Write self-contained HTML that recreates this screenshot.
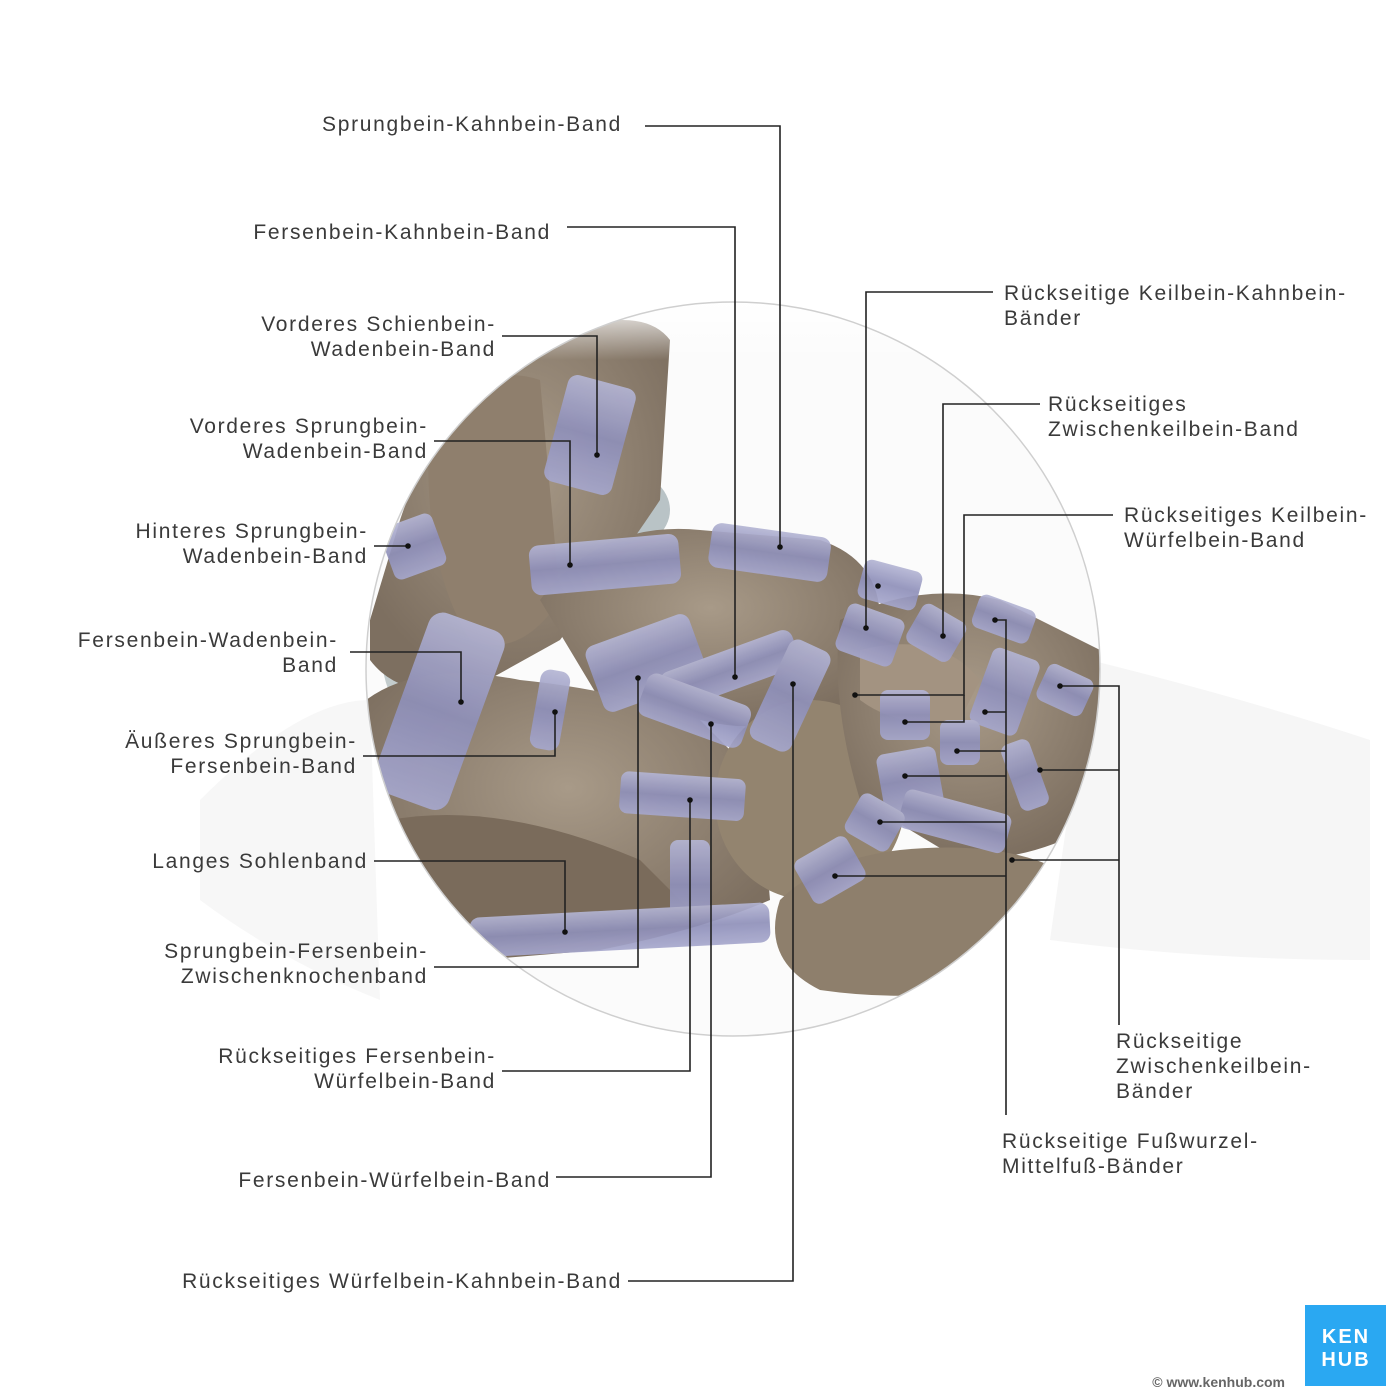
<!DOCTYPE html>
<html><head><meta charset="utf-8"><style>
html,body{margin:0;padding:0;background:#fff}
svg{display:block}
text{font-family:"Liberation Sans",sans-serif;font-size:21px;fill:#3a3a3a;letter-spacing:1.7px}
.r{text-anchor:end}
.l{fill:none;stroke:#222;stroke-width:1.6}
</style></head><body>
<svg width="1400" height="1400" viewBox="0 0 1400 1400" xmlns="http://www.w3.org/2000/svg">
<defs>
<clipPath id="c"><circle cx="733" cy="669" r="367"/></clipPath>
<radialGradient id="bone" cx="50%" cy="40%" r="60%"><stop offset="0" stop-color="#a89a88"/><stop offset="1" stop-color="#7d6f60"/></radialGradient>
<linearGradient id="lig" x1="0" y1="0" x2="0" y2="1"><stop offset="0" stop-color="#b4b5d4"/><stop offset="0.5" stop-color="#8e8fb9"/><stop offset="1" stop-color="#a6a7cc"/></linearGradient>
<linearGradient id="fade" x1="0" y1="0" x2="0" y2="1"><stop offset="0" stop-color="#fff" stop-opacity="1"/><stop offset="1" stop-color="#fff" stop-opacity="0"/></linearGradient>
</defs>
<rect width="1400" height="1400" fill="#fff"/>
<path d="M1090 660 Q1250 700 1370 740 L1370 960 Q1200 960 1050 940 Z" fill="#f6f6f6"/>
<path d="M200 800 Q300 700 370 700 L380 1000 Q280 960 200 900Z" fill="#f7f7f7"/>
<g clip-path="url(#c)">
<rect x="360" y="300" width="750" height="740" fill="#fbfbfb"/>
<ellipse cx="620" cy="510" rx="50" ry="40" fill="#b9c3c6"/>
<ellipse cx="430" cy="640" rx="50" ry="90" fill="#c3cccd"/>
<ellipse cx="770" cy="620" rx="30" ry="60" fill="#bac3c5"/>
<ellipse cx="680" cy="800" rx="25" ry="80" fill="#bcc5c7"/>
<path d="M370 620 L400 520 Q440 400 540 340 Q640 300 670 340 L660 500 Q620 560 560 640 L470 690 Q400 700 370 660Z" fill="url(#bone)"/>
<path d="M430 420 Q480 360 540 380 L560 600 Q520 660 470 640 Q420 560 430 420Z" fill="#8f7f6d"/>
<path d="M540 600 Q600 520 700 530 L820 540 Q880 560 880 620 L860 700 Q780 740 700 720 L600 700 Z" fill="url(#bone)"/>
<path d="M366 700 Q420 660 520 680 Q620 690 700 720 L760 780 L770 900 Q700 930 600 950 L480 960 Q400 920 370 820Z" fill="url(#bone)"/>
<path d="M390 820 Q500 800 640 860 L700 920 Q560 950 470 950 Q410 900 390 820Z" fill="#7a6b5b"/>
<ellipse cx="810" cy="800" rx="95" ry="100" fill="#93846f"/>
<path d="M840 620 Q920 580 1000 600 L1100 650 L1100 820 Q1040 860 960 860 L860 800 Q830 700 840 620Z" fill="url(#bone)"/>
<path d="M860 650 Q940 630 980 680 L960 720 Q900 730 860 700Z" fill="#a39381"/>
<path d="M780 900 Q820 860 900 850 Q1000 840 1060 870 L1080 960 Q960 1010 820 990 Q760 960 780 900Z" fill="#8e7f6c"/>
<g fill="url(#lig)" opacity="0.92">
<rect x="555" y="380" width="70" height="110" rx="10" transform="rotate(15 590 435)"/>
<rect x="385" y="520" width="55" height="55" rx="8" transform="rotate(-20 410 545)"/>
<rect x="530" y="540" width="150" height="50" rx="10" transform="rotate(-5 600 565)"/>
<rect x="710" y="530" width="120" height="45" rx="10" transform="rotate(8 770 550)"/>
<rect x="400" y="620" width="80" height="190" rx="15" transform="rotate(20 450 710)"/>
<rect x="535" y="670" width="30" height="80" rx="10" transform="rotate(10 550 710)"/>
<rect x="590" y="630" width="110" height="70" rx="10" transform="rotate(-20 640 660)"/>
<rect x="660" y="650" width="140" height="40" rx="10" transform="rotate(-20 730 670)"/>
<rect x="640" y="690" width="110" height="45" rx="10" transform="rotate(20 700 710)"/>
<rect x="770" y="640" width="45" height="110" rx="10" transform="rotate(25 790 690)"/>
<rect x="620" y="775" width="125" height="42" rx="8" transform="rotate(4 680 795)"/>
<rect x="670" y="840" width="40" height="90" rx="8"/>
<rect x="470" y="910" width="300" height="40" rx="10" transform="rotate(-3 620 930)"/>
<rect x="860" y="565" width="60" height="40" rx="8" transform="rotate(15 890 585)"/>
<rect x="840" y="610" width="60" height="50" rx="8" transform="rotate(20 870 635)"/>
<rect x="910" y="610" width="50" height="45" rx="8" transform="rotate(30 935 635)"/>
<rect x="975" y="600" width="60" height="35" rx="8" transform="rotate(20 1000 615)"/>
<rect x="980" y="650" width="50" height="80" rx="8" transform="rotate(20 1000 690)"/>
<rect x="1040" y="670" width="50" height="40" rx="8" transform="rotate(25 1065 690)"/>
<rect x="880" y="690" width="50" height="50" rx="8"/>
<rect x="940" y="720" width="40" height="45" rx="8"/>
<rect x="880" y="750" width="60" height="60" rx="8" transform="rotate(-10 910 780)"/>
<rect x="1010" y="740" width="30" height="70" rx="8" transform="rotate(-20 1025 775)"/>
<rect x="900" y="800" width="110" height="40" rx="8" transform="rotate(15 950 820)"/>
<rect x="850" y="800" width="50" height="45" rx="8" transform="rotate(30 875 822)"/>
<rect x="800" y="845" width="60" height="50" rx="8" transform="rotate(-30 830 870)"/>
</g>
<rect x="360" y="300" width="750" height="60" fill="url(#fade)"/>
</g>
<circle cx="733" cy="669" r="367" fill="none" stroke="#cfcfcf" stroke-width="1.5"/>

<g class="l">
<polyline points="645,126 780,126 780,547"/>
<polyline points="567,227 735,227 735,677"/>
<polyline points="502,336 597,336 597,455"/>
<polyline points="434,441 570,441 570,565"/>
<polyline points="374,546 408,546"/>
<polyline points="350,652 461,652 461,702"/>
<polyline points="363,756 555,756 555,712"/>
<polyline points="374,861 565,861 565,932"/>
<polyline points="434,967 638,967 638,678"/>
<polyline points="502,1071 690,1071 690,800"/>
<polyline points="556,1177 711,1177 711,724"/>
<polyline points="628,1281 793,1281 793,684"/>
<polyline points="993,292 866,292 866,628"/>
<polyline points="1040,404 943,404 943,636"/>
<polyline points="1113,515 964,515 964,695 855,695"/>
<polyline points="964,695 964,722 905,722"/>
<polyline points="1119,1025 1119,686 1060,686"/>
<polyline points="1119,770 1040,770"/>
<polyline points="1119,860 1012,860"/>
<polyline points="1006,1115 1006,620 995,620"/>
<polyline points="1006,712 985,712"/>
<polyline points="1006,751 957,751"/>
<polyline points="1006,776 905,776"/>
<polyline points="1006,822 880,822"/>
<polyline points="1006,876 835,876"/>
</g>
<g fill="#111">
<circle cx="780" cy="547" r="2.8"/><circle cx="735" cy="677" r="2.8"/><circle cx="597" cy="455" r="2.8"/>
<circle cx="570" cy="565" r="2.8"/><circle cx="408" cy="546" r="2.8"/><circle cx="461" cy="702" r="2.8"/>
<circle cx="555" cy="712" r="2.8"/><circle cx="565" cy="932" r="2.8"/><circle cx="638" cy="678" r="2.8"/>
<circle cx="690" cy="800" r="2.8"/><circle cx="711" cy="724" r="2.8"/><circle cx="793" cy="684" r="2.8"/>
<circle cx="866" cy="628" r="2.8"/><circle cx="943" cy="636" r="2.8"/><circle cx="855" cy="695" r="2.8"/>
<circle cx="905" cy="722" r="2.8"/><circle cx="1060" cy="686" r="2.8"/><circle cx="1040" cy="770" r="2.8"/>
<circle cx="1012" cy="860" r="2.8"/><circle cx="995" cy="620" r="2.8"/><circle cx="985" cy="712" r="2.8"/>
<circle cx="957" cy="751" r="2.8"/><circle cx="905" cy="776" r="2.8"/><circle cx="880" cy="822" r="2.8"/>
<circle cx="835" cy="876" r="2.8"/><circle cx="878" cy="586" r="2.8"/>
</g>

<text class="r" x="622" y="131">Sprungbein-Kahnbein-Band</text>
<text class="r" x="551" y="239">Fersenbein-Kahnbein-Band</text>
<text class="r" x="496" y="331">Vorderes Schienbein-</text>
<text class="r" x="496" y="356">Wadenbein-Band</text>
<text class="r" x="428" y="433">Vorderes Sprungbein-</text>
<text class="r" x="428" y="458">Wadenbein-Band</text>
<text class="r" x="368" y="538">Hinteres Sprungbein-</text>
<text class="r" x="368" y="563">Wadenbein-Band</text>
<text class="r" x="338" y="647">Fersenbein-Wadenbein-</text>
<text class="r" x="338" y="672">Band</text>
<text class="r" x="357" y="748">Äußeres Sprungbein-</text>
<text class="r" x="357" y="773">Fersenbein-Band</text>
<text class="r" x="368" y="868">Langes Sohlenband</text>
<text class="r" x="428" y="958">Sprungbein-Fersenbein-</text>
<text class="r" x="428" y="983">Zwischenknochenband</text>
<text class="r" x="496" y="1063">Rückseitiges Fersenbein-</text>
<text class="r" x="496" y="1088">Würfelbein-Band</text>
<text class="r" x="551" y="1187">Fersenbein-Würfelbein-Band</text>
<text class="r" x="622" y="1288">Rückseitiges Würfelbein-Kahnbein-Band</text>
<text x="1004" y="300">Rückseitige Keilbein-Kahnbein-</text>
<text x="1004" y="325">Bänder</text>
<text x="1048" y="411">Rückseitiges</text>
<text x="1048" y="436">Zwischenkeilbein-Band</text>
<text x="1124" y="522">Rückseitiges Keilbein-</text>
<text x="1124" y="547">Würfelbein-Band</text>
<text x="1116" y="1048">Rückseitige</text>
<text x="1116" y="1073">Zwischenkeilbein-</text>
<text x="1116" y="1098">Bänder</text>
<text x="1002" y="1148">Rückseitige Fußwurzel-</text>
<text x="1002" y="1173">Mittelfuß-Bänder</text>

<rect x="1305" y="1305" width="81" height="81" fill="#2aa8f2"/>
<text x="1346" y="1343" style="fill:#fff;font-size:20px;font-weight:bold;text-anchor:middle;letter-spacing:2px">KEN</text>
<text x="1346" y="1366" style="fill:#fff;font-size:20px;font-weight:bold;text-anchor:middle;letter-spacing:2px">HUB</text>
<text x="1285" y="1387" style="font-size:14px;fill:#666;text-anchor:end;font-weight:bold;letter-spacing:0">© www.kenhub.com</text>
</svg>
</body></html>
